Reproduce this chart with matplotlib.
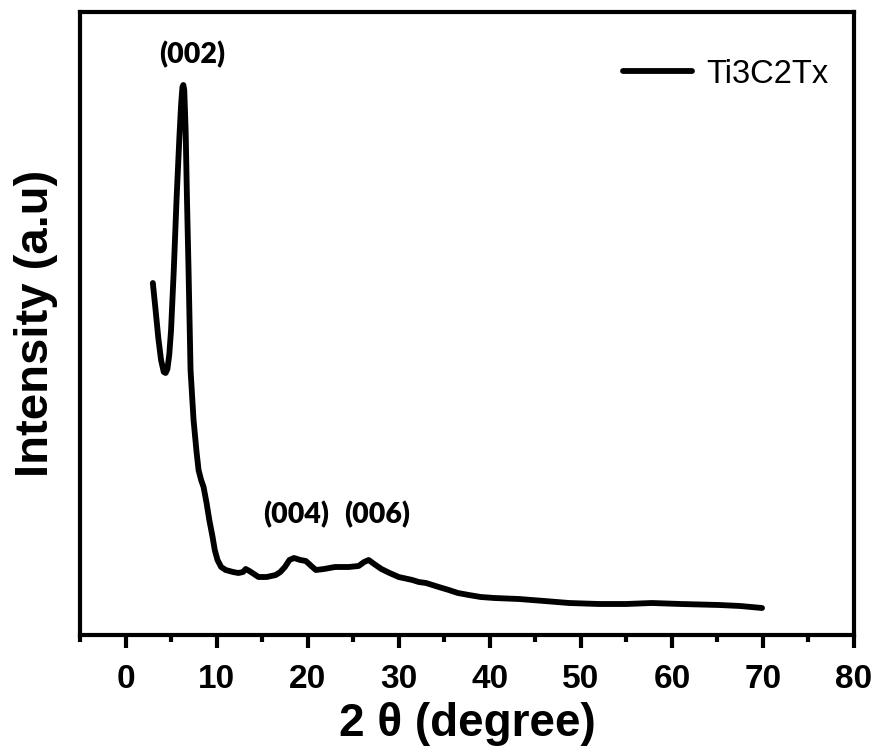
import matplotlib
matplotlib.use("Agg")
import matplotlib.pyplot as plt
import numpy as np

# XRD pattern of Ti3C2Tx (2-theta in degrees, intensity in arbitrary units)
two_theta = [3.0, 3.3, 3.6, 3.9, 4.2, 4.4, 4.6, 4.8, 5.0, 5.3, 5.6, 5.9, 6.1, 6.25,
             6.35, 6.45, 6.6, 6.75, 6.92, 7.14, 7.47, 7.8, 8.02, 8.3, 8.57, 8.9,
             9.2, 9.56, 9.8, 10.1, 10.5, 11.0, 11.8, 12.4, 12.9, 13.2, 13.6, 14.1,
             14.6, 15.5, 16.5, 17.0, 17.5, 18.0, 18.5, 19.2, 19.8, 20.4, 20.9,
             21.8, 23.0, 24.5, 25.6, 26.2, 26.7, 27.3, 28.1, 29.0, 30.0, 31.5,
             32.2, 33.0, 34.4, 35.5, 36.5, 37.7, 39.0, 40.5, 43.2, 46.0, 48.7,
             52.0, 55.0, 57.8, 61.0, 65.2, 67.5, 69.9]
intensity = [352, 325, 297, 275, 263, 262, 266, 280, 305, 365, 435, 495, 530, 548,
             550, 545, 505, 435, 365, 265, 215, 183, 165, 155, 148, 132,
             115, 98, 85, 75, 68, 65, 63, 62, 63, 66, 64, 61,
             58, 58, 60, 63, 68, 75, 77, 75, 74, 69, 65,
             66, 68, 68, 69, 73, 75, 71, 66, 62, 58, 55,
             53, 52, 48, 45, 42, 40, 38, 37, 36, 34, 32,
             31, 31, 32, 31, 30, 29, 27]

peak_labels = ["(002)", "(004)", "(006)"]
peak_label_x = [7.3, 18.7, 27.6]
peak_label_y = [580, 120, 120]

xticks = [0, 10, 20, 30, 40, 50, 60, 70, 80]

fig = plt.figure(figsize=(8.81, 7.47), dpi=100)
ax = fig.add_axes([80 / 881, (747 - 635) / 747, (854 - 80) / 881, (635 - 12) / 747])

ax.plot(two_theta, intensity, color="black", lw=4.2, solid_capstyle="round",
        solid_joinstyle="round", label="Ti3C2Tx")

ax.set_xlim(-5, 80)
ax.set_ylim(0, 623)
ax.set_xticks(xticks)
ax.set_xticks(np.arange(-5, 80, 10), minor=True)
ax.set_yticks([])

for s in ax.spines.values():
    s.set_linewidth(3.0)

tick_font = {"family": "Liberation Sans", "weight": "bold", "size": 24}
ax.set_xticklabels([str(t) for t in xticks], fontdict=tick_font)
ax.tick_params(axis="x", which="major", direction="out", length=9, width=3, pad=12)
ax.tick_params(axis="x", which="minor", direction="out", length=5, width=3)

ax.set_xlabel("2 θ (degree)", family="Liberation Sans", weight="bold", size=33,
              labelpad=5)
ax.set_ylabel("Intensity (a.u)", family="Liberation Sans", weight="bold", size=34,
              labelpad=16)

for txt, px, py in zip(peak_labels, peak_label_x, peak_label_y):
    ax.text(px, py, txt, ha="center", va="center", family="Lato", weight="heavy",
            size=20.5)

leg = ax.legend(loc="upper right", frameon=False, handlelength=2.1,
                prop={"family": "Liberation Sans", "size": 23.5},
                bbox_to_anchor=(1.005, 0.972), handletextpad=0.45)

fig.savefig("out.png", dpi=100)
